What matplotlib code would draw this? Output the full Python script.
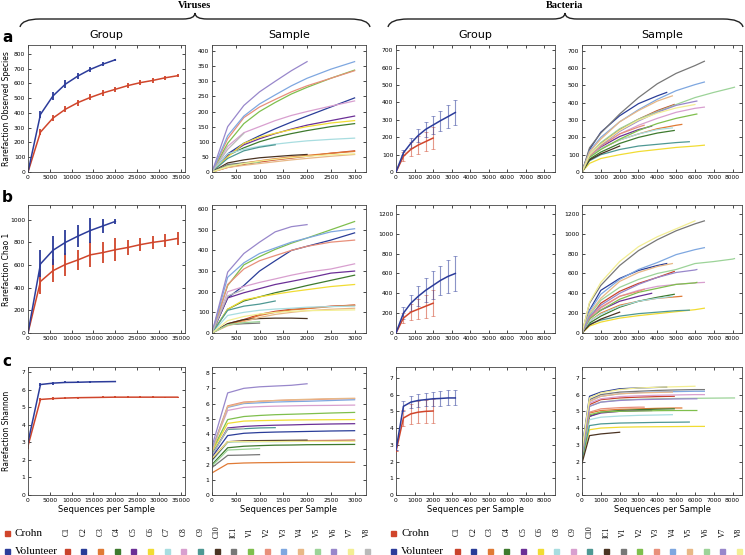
import matplotlib.pyplot as plt
from matplotlib.path import Path
from matplotlib.patches import PathPatch, Rectangle

# ---------------- data ----------------
palette = ['#c9432c', '#2a3d98', '#e07a35', '#3e7a2e', '#6b2f96', '#f1dc33',
           '#a8dde0', '#d89fcf', '#4e9893', '#4a3322', '#777777', '#7fbf4d',
           '#e88f7a', '#7ea7e0', '#e8b887', '#9cd398', '#9887cb', '#f3ee93',
           '#b9b9b9']
crohn_color = '#d0452b'
vol_color = '#2c3c9a'

virus_samples = ['C1', 'C2', 'C3', 'C4', 'C5', 'C6', 'C7', 'C8', 'C9', 'C10', 'IC1',
                 'V1', 'V2', 'V3', 'V4', 'V5', 'V6', 'V7', 'V8']
bact_samples = ['C1', 'C2', 'C3', 'C4', 'C5', 'C6', 'C8', 'C9', 'C10', 'IC1',
                'V1', 'V2', 'V3', 'V4', 'V5', 'V6', 'V7', 'V8']

# virus, group level
vg_x = [0, 2860, 5720, 8580, 11440, 14300, 17160, 20020, 22880, 25740, 28600, 31460, 34320]
vg_obs_crohn = [0, 270, 365, 425, 470, 505, 535, 560, 585, 605, 620, 638, 652]
vg_obs_crohn_err = [0, 20, 22, 20, 20, 20, 18, 18, 15, 15, 15, 12, 12]
vg_obs_vol = [0, 390, 515, 595, 650, 695, 730, 760]
vg_obs_vol_err = [0, 25, 30, 25, 20, 18, 12, 5]
vg_chao_crohn = [0, 455, 550, 605, 645, 690, 710, 735, 755, 780, 800, 815, 835]
vg_chao_crohn_err = [0, 110, 100, 100, 90, 110, 90, 100, 70, 60, 55, 55, 60]
vg_chao_vol = [0, 610, 730, 800, 855, 905, 945, 985]
vg_chao_vol_err = [0, 120, 130, 110, 100, 110, 60, 20]
vg_sha_crohn = [2.8, 5.45, 5.5, 5.53, 5.55, 5.56, 5.57, 5.58, 5.58, 5.58, 5.58, 5.58, 5.58]
vg_sha_crohn_err = [0.2, 0.1, 0.08, 0.06, 0.05, 0.05, 0.05, 0.04, 0.04, 0.04, 0.04, 0.03, 0.03]
vg_sha_vol = [3.0, 6.3, 6.38, 6.42, 6.43, 6.45, 6.46, 6.47]
vg_sha_vol_err = [0.2, 0.1, 0.08, 0.06, 0.05, 0.04, 0.03, 0.02]

# virus, per sample (values at vs_x, curves may stop early)
vs_x = [0, 330, 670, 1000, 1330, 1670, 2000, 2500, 3000]
vs_obs = [
    [0, 15, 25, 33, 40, 46, 52, 62, 70],
    [0, 60, 95, 120, 143, 165, 185, 215, 245],
    [0, 20, 30, 37, 44, 50, 55, 62, 68],
    [0, 55, 80, 100, 115, 127, 137, 150, 160],
    [0, 55, 90, 110, 127, 142, 155, 170, 185],
    [0, 50, 95, 115, 128, 140, 150, 162, 170],
    [0, 60, 75, 85, 92, 98, 103, 108, 112],
    [0, 85, 130, 150, 170, 187, 200, 218, 235],
    [0, 45, 70, 82, 90],
    [0, 30, 40, 47, 51, 55, 58],
    [0, 25, 30, 33],
    [0, 95, 160, 200, 230, 258, 280, 310, 337],
    [0, 110, 180, 215, 240, 265, 285, 310, 335],
    [0, 120, 185, 225, 255, 285, 310, 340, 365],
    [0, 15, 22, 28, 34, 40, 45, 52, 58],
    [0, 20, 28, 33],
    [0, 150, 220, 265, 300, 335, 365],
    [0, 18, 28, 36, 42, 48, 52, 57, 60],
    [0, 75, 128],
]
vs_chao = [
    [0, 45, 65, 90, 105, 115, 120, 130, 135],
    [0, 170, 230, 300, 350, 400, 420, 450, 485],
    [0, 40, 60, 85, 100, 112, 118, 128, 135],
    [0, 115, 155, 175, 195, 212, 230, 255, 280],
    [0, 170, 195, 215, 235, 250, 265, 290, 300],
    [0, 115, 160, 175, 188, 200, 210, 225, 235],
    [0, 85, 100, 110, 116, 120, 125, 128, 130],
    [0, 200, 225, 245, 262, 280, 295, 310, 335],
    [0, 110, 130, 140, 155],
    [0, 45, 65, 70, 72, 72, 70],
    [0, 40, 45, 48],
    [0, 230, 330, 370, 405, 435, 460, 500, 540],
    [0, 235, 310, 350, 375, 400, 420, 440, 450],
    [0, 270, 340, 385, 412, 440, 460, 490, 505],
    [0, 35, 55, 75, 90, 100, 108, 115, 120],
    [0, 40, 50, 55],
    [0, 295, 385, 440, 490, 515, 525],
    [0, 60, 80, 92, 100, 105, 108, 110, 112],
    [0, 180, 210],
]
vs_sha = [
    [2.4, 3.5, 3.52, 3.54, 3.55, 3.56, 3.57, 3.58, 3.6],
    [2.5, 3.9, 4.05, 4.1, 4.13, 4.15, 4.17, 4.2, 4.22],
    [1.45, 2.05, 2.1, 2.12, 2.13, 2.14, 2.15, 2.15, 2.15],
    [2.0, 3.1, 3.2, 3.24, 3.27, 3.28, 3.3, 3.31, 3.32],
    [2.6, 4.4, 4.5, 4.55, 4.58, 4.6, 4.63, 4.66, 4.68],
    [2.8, 4.7, 4.85, 4.88, 4.9, 4.92, 4.93, 4.94, 4.95],
    [2.2, 3.45, 3.48, 3.5, 3.5, 3.51, 3.52, 3.52, 3.52],
    [3.0, 5.55, 5.75, 5.8, 5.83, 5.85, 5.87, 5.88, 5.9],
    [2.7, 4.3, 4.35, 4.4, 4.42],
    [2.3, 3.5, 3.55, 3.57, 3.58, 3.59, 3.6],
    [1.8, 2.6, 2.62, 2.65],
    [2.9, 4.95, 5.15, 5.22, 5.27, 5.3, 5.33, 5.38, 5.42],
    [3.0, 5.85, 6.1, 6.15, 6.2, 6.23, 6.25, 6.3, 6.32],
    [3.0, 5.75, 6.0, 6.05, 6.1, 6.13, 6.15, 6.2, 6.25],
    [2.8, 5.8, 6.05, 6.15, 6.2, 6.25, 6.28, 6.32, 6.35],
    [1.9, 2.95, 3.0, 3.05],
    [3.2, 6.7, 7.0, 7.1, 7.15, 7.2, 7.3],
    [2.4, 3.5, 3.5, 3.51, 3.51, 3.52, 3.52, 3.52, 3.52],
    [2.6, 4.35, 4.38],
]

# bacteria, group level
bg_x = [0, 400, 800, 1200, 1600, 2000, 2400, 2800, 3200]
bg_obs_crohn = [0, 90, 130, 155, 175, 195]
bg_obs_crohn_err = [0, 25, 40, 50, 55, 65]
bg_obs_vol = [0, 110, 165, 210, 245, 270, 295, 318, 342]
bg_obs_vol_err = [0, 15, 28, 35, 42, 50, 58, 65, 72]
bg_chao_crohn = [0, 150, 210, 240, 270, 300]
bg_chao_crohn_err = [0, 50, 80, 100, 115, 130]
bg_chao_vol = [0, 200, 300, 370, 430, 480, 530, 570, 600]
bg_chao_vol_err = [0, 60, 80, 100, 120, 140, 150, 165, 175]
bg_sha_crohn = [2.6, 4.6, 4.85, 4.95, 5.0, 5.02]
bg_sha_crohn_err = [0, 0.5, 0.6, 0.65, 0.7, 0.7]
bg_sha_vol = [2.7, 5.3, 5.55, 5.65, 5.7, 5.75, 5.77, 5.8, 5.8]
bg_sha_vol_err = [0, 0.3, 0.35, 0.4, 0.4, 0.42, 0.43, 0.45, 0.45]

# bacteria, per sample (values at bs_x below the sample's depth, then at its depth)
bs_x = [0, 400, 1000, 2000, 3000, 4000, 5000, 6000, 7000, 8000]
bs_depth = [4900, 4500, 5300, 4900, 3700, 6500, 4800, 6500, 5700, 2000,
            6500, 6100, 3300, 6500, 4800, 8100, 6100, 6000]
bs_obs = [
    [0, 100, 165, 245, 305, 355, 390],
    [0, 130, 230, 325, 395, 440, 460],
    [0, 90, 135, 185, 220, 250, 270, 275],
    [0, 75, 115, 165, 200, 225, 240],
    [0, 95, 145, 205, 245, 265],
    [0, 50, 78, 100, 118, 130, 142, 150, 155],
    [0, 85, 135, 185, 220, 245, 255],
    [0, 90, 150, 220, 270, 310, 345, 368, 375],
    [0, 65, 100, 130, 150, 160, 170, 175],
    [0, 70, 105, 150],
    [0, 140, 225, 335, 430, 510, 570, 615, 640],
    [0, 85, 130, 190, 240, 280, 310, 333, 335],
    [0, 95, 150, 220, 260, 270],
    [0, 120, 200, 290, 360, 420, 470, 505, 520],
    [0, 115, 190, 290, 355, 410, 440],
    [0, 100, 170, 250, 305, 350, 390, 430, 460, 487, 490],
    [0, 100, 155, 235, 295, 345, 385, 408, 410],
    [0, 100, 160, 240, 300, 340, 370, 390],
]
bs_chao = [
    [0, 150, 300, 420, 500, 560, 620],
    [0, 230, 430, 550, 630, 680, 700],
    [0, 120, 200, 280, 320, 350, 365, 370],
    [0, 100, 170, 260, 320, 360, 390],
    [0, 150, 230, 320, 370, 400],
    [0, 70, 110, 150, 175, 195, 215, 235, 250],
    [0, 120, 190, 270, 320, 350, 370],
    [0, 140, 250, 370, 430, 470, 490, 505, 510],
    [0, 90, 130, 170, 195, 210, 225, 230],
    [0, 80, 140, 210],
    [0, 300, 480, 680, 830, 940, 1030, 1100, 1130],
    [0, 140, 230, 340, 410, 450, 490, 505, 510],
    [0, 160, 260, 370, 420, 440],
    [0, 220, 390, 540, 640, 710, 790, 840, 860],
    [0, 200, 350, 520, 610, 670, 700],
    [0, 180, 330, 460, 540, 600, 640, 700, 720, 745, 750],
    [0, 170, 280, 400, 490, 560, 610, 635, 640],
    [0, 310, 510, 720, 870, 970, 1050, 1130],
]
bs_sha = [
    [2.4, 5.4, 5.7, 5.8, 5.85, 5.88, 5.9],
    [2.8, 5.9, 6.15, 6.35, 6.4, 6.43, 6.45],
    [2.3, 4.9, 5.05, 5.12, 5.15, 5.18, 5.2, 5.2],
    [2.2, 4.7, 4.95, 5.05, 5.1, 5.13, 5.15],
    [2.2, 4.7, 4.9, 5.0, 5.04, 5.05],
    [2.0, 3.9, 4.0, 4.05, 4.07, 4.08, 4.09, 4.1, 4.1],
    [2.2, 4.5, 4.65, 4.72, 4.76, 4.78, 4.8],
    [2.5, 5.5, 5.75, 5.88, 5.93, 5.96, 5.98, 6.0, 6.0],
    [2.1, 4.15, 4.25, 4.3, 4.32, 4.34, 4.35, 4.36],
    [1.9, 3.55, 3.65, 3.75],
    [2.6, 5.7, 6.0, 6.15, 6.2, 6.25, 6.28, 6.3, 6.3],
    [2.3, 4.8, 4.95, 5.0, 5.02, 5.04, 5.05, 5.05, 5.05],
    [2.4, 4.95, 5.15, 5.22, 5.25, 5.25],
    [2.6, 5.6, 5.9, 6.05, 6.12, 6.16, 6.18, 6.2, 6.2],
    [2.5, 5.6, 5.9, 6.05, 6.1, 6.13, 6.15],
    [2.4, 5.3, 5.55, 5.68, 5.72, 5.75, 5.77, 5.78, 5.79, 5.8, 5.8],
    [2.4, 5.3, 5.55, 5.65, 5.7, 5.72, 5.74, 5.75, 5.75],
    [2.7, 5.8, 6.1, 6.3, 6.4, 6.44, 6.47, 6.5],
]

# ---------------- layout ----------------
W, H = 745, 555
fig = plt.figure(figsize=(W / 100, H / 100), dpi=100)

col_lr = [(28, 185), (212, 366), (396, 555), (582, 742)]
row_tb = [(45, 172), (205, 333), (367, 495)]


def ftext(x, y, s, **kw):
    fig.text(x / W, 1 - y / H, s, **kw)


def add_ax(col, row):
    l, r = col_lr[col]
    t, b = row_tb[row]
    ax = fig.add_axes([l / W, 1 - b / H, (r - l) / W, (b - t) / H])
    ax.tick_params(direction='in', top=True, right=True, length=2, width=0.5,
                   labelsize=4.3, pad=2)
    for s in ax.spines.values():
        s.set_linewidth(0.6)
        s.set_color('#444444')
    return ax


def group_panel(ax, x, crohn, c_err, vol, v_err, virus):
    for y, e, c in [(crohn, c_err, crohn_color), (vol, v_err, vol_color)]:
        xs = x[:len(y)]
        if virus:
            ax.errorbar(xs, y, yerr=e, color=c, lw=1.1, elinewidth=1.3, capsize=0)
        else:
            ax.plot(xs, y, color=c, lw=1.1, zorder=3)
            ax.errorbar(xs, y, yerr=e, fmt='none', ecolor=c, elinewidth=0.8,
                        capsize=1.5, capthick=0.6, alpha=0.55)


def virus_sample_panel(ax, series):
    for i, y in enumerate(series):
        ax.plot(vs_x[:len(y)], y, color=palette[i], lw=0.9)


def bact_sample_panel(ax, series):
    for i, y in enumerate(series):
        xs = [g for g in bs_x if g < bs_depth[i]] + [bs_depth[i]]
        ax.plot(xs, y, color=palette[i], lw=0.9)


# row a
ax = add_ax(0, 0)
group_panel(ax, vg_x, vg_obs_crohn, vg_obs_crohn_err, vg_obs_vol, vg_obs_vol_err, True)
ax.set_xlim(0, 36000); ax.set_ylim(0, 860)
ax.set_xticks(range(0, 35001, 5000)); ax.set_yticks(range(0, 801, 100))

ax = add_ax(1, 0)
virus_sample_panel(ax, vs_obs)
ax.set_xlim(0, 3240); ax.set_ylim(0, 420)
ax.set_xticks(range(0, 3001, 500)); ax.set_yticks(range(0, 401, 50))

ax = add_ax(2, 0)
group_panel(ax, bg_x, bg_obs_crohn, bg_obs_crohn_err, bg_obs_vol, bg_obs_vol_err, False)
ax.set_xlim(0, 8580); ax.set_ylim(0, 730)
ax.set_xticks(range(0, 8001, 1000)); ax.set_yticks(range(0, 701, 100))

ax = add_ax(3, 0)
bact_sample_panel(ax, bs_obs)
ax.set_xlim(0, 8500); ax.set_ylim(0, 734)
ax.set_xticks(range(0, 8001, 1000)); ax.set_yticks(range(0, 701, 100))

# row b
ax = add_ax(0, 1)
group_panel(ax, vg_x, vg_chao_crohn, vg_chao_crohn_err, vg_chao_vol, vg_chao_vol_err, True)
ax.set_xlim(0, 36000); ax.set_ylim(0, 1130)
ax.set_xticks(range(0, 35001, 5000)); ax.set_yticks(range(0, 1001, 200))

ax = add_ax(1, 1)
virus_sample_panel(ax, vs_chao)
ax.set_xlim(0, 3240); ax.set_ylim(0, 620)
ax.set_xticks(range(0, 3001, 500)); ax.set_yticks(range(0, 601, 100))

ax = add_ax(2, 1)
group_panel(ax, bg_x, bg_chao_crohn, bg_chao_crohn_err, bg_chao_vol, bg_chao_vol_err, False)
ax.set_xlim(0, 8580); ax.set_ylim(0, 1290)
ax.set_xticks(range(0, 8001, 1000)); ax.set_yticks(range(0, 1201, 200))

ax = add_ax(3, 1)
bact_sample_panel(ax, bs_chao)
ax.set_xlim(0, 8500); ax.set_ylim(0, 1290)
ax.set_xticks(range(0, 8001, 1000)); ax.set_yticks(range(0, 1201, 200))

# row c
ax = add_ax(0, 2)
group_panel(ax, vg_x, vg_sha_crohn, vg_sha_crohn_err, vg_sha_vol, vg_sha_vol_err, True)
ax.set_xlim(0, 36000); ax.set_ylim(0, 7.3)
ax.set_xticks(range(0, 35001, 5000)); ax.set_yticks(range(0, 8))

ax = add_ax(1, 2)
virus_sample_panel(ax, vs_sha)
ax.set_xlim(0, 3240); ax.set_ylim(0, 8.4)
ax.set_xticks(range(0, 3001, 500)); ax.set_yticks(range(0, 9))

ax = add_ax(2, 2)
group_panel(ax, bg_x, bg_sha_crohn, bg_sha_crohn_err, bg_sha_vol, bg_sha_vol_err, False)
ax.set_xlim(0, 8580); ax.set_ylim(0, 7.65)
ax.set_xticks(range(0, 8001, 1000)); ax.set_yticks(range(0, 8))

ax = add_ax(3, 2)
bact_sample_panel(ax, bs_sha)
ax.set_xlim(0, 8500); ax.set_ylim(0, 7.65)
ax.set_xticks(range(0, 8001, 1000)); ax.set_yticks(range(0, 8))

for a in fig.axes[-4:]:
    a.set_xlabel('Sequences per Sample', fontsize=6, labelpad=1.5)

# y labels of the left column
for (t, b), lab in zip(row_tb, ['Rarefaction Observed Species', 'Rarefaction Chao 1',
                                'Rarefaction Shannon']):
    ftext(7, (t + b) / 2, lab, ha='center', va='center', rotation=90, fontsize=5.5)

# ---------------- headers ----------------
for cx, title in [(195, 'Viruses'), (565, 'Bacteria')]:
    ftext(cx, 1, title, ha='center', va='top', fontsize=7.5, weight='bold',
          family='Liberation Serif')

for (x0, x1, tip) in [(20, 370, 195), (388, 743, 565)]:
    pts = [(x0, 27), (x0 + 2, 19), (x0 + 20, 19), (tip - 12, 19), (tip, 19), (tip, 13),
           (tip, 19), (tip + 12, 19), (x1 - 20, 19), (x1 - 2, 19), (x1, 27)]
    codes = [Path.MOVETO, Path.CURVE3, Path.CURVE3, Path.LINETO, Path.CURVE3, Path.CURVE3,
             Path.CURVE3, Path.CURVE3, Path.LINETO, Path.CURVE3, Path.CURVE3]
    verts = [(px / W, 1 - py / H) for px, py in pts]
    fig.add_artist(PathPatch(Path(verts, codes), transform=fig.transFigure,
                             fill=False, lw=1.0, color='#222222'))

for i, title in enumerate(['Group', 'Sample', 'Group', 'Sample']):
    l, r = col_lr[i]
    ftext((l + r) / 2, 35, title, ha='center', va='center', fontsize=8)

for letter, y in [('a', 37), ('b', 198), ('c', 362)]:
    ftext(2, y, letter, ha='left', va='center', fontsize=11, weight='bold')


# ---------------- legends ----------------
def legend_block(x_sq, x_first, names, step):
    for label, c, y in [('Crohn', crohn_color, 533), ('Volunteer', vol_color, 551)]:
        fig.add_artist(Rectangle(((x_sq - 2.5) / W, 1 - (y + 2.5) / H), 5 / W, 5 / H,
                                 transform=fig.transFigure, color=c))
        ftext(x_sq + 8, y, label, ha='left', va='center', fontsize=8,
              family='Liberation Serif')
    for i, name in enumerate(names):
        x = x_first + i * step
        ftext(x, 532, name, ha='center', va='center', rotation=90, fontsize=5.5,
              family='Liberation Serif')
        fig.add_artist(Rectangle(((x - 2.5) / W, 1 - 553.5 / H), 5 / W, 5 / H,
                                 transform=fig.transFigure, color=palette[i]))


legend_block(7, 67, virus_samples, 16.67)
legend_block(393, 457, bact_samples, 16.6)

fig.savefig('out.png', dpi=100)
